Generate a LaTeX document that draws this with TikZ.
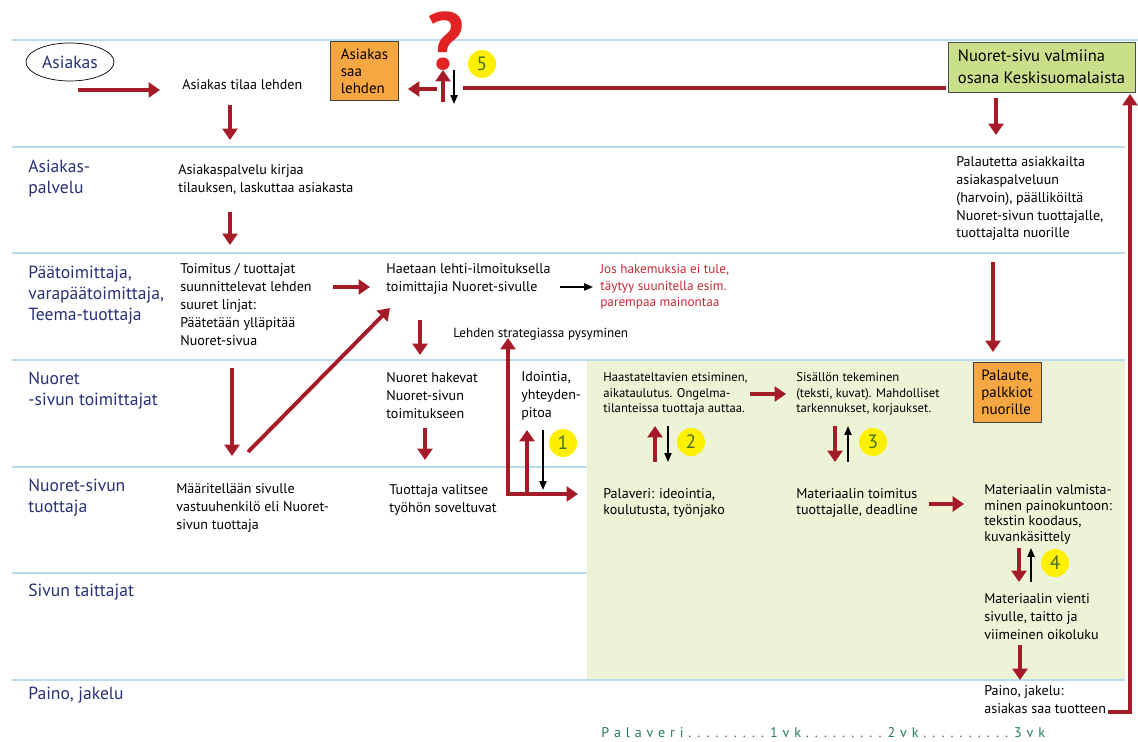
\documentclass[tikz,border=0pt]{standalone}
\usepackage{fontspec}
\setmainfont{PT Sans}
\usetikzlibrary{arrows.meta,shapes.geometric}

\definecolor{laneblue}{RGB}{185,220,236}
\definecolor{laneink}{RGB}{40,48,120}
\definecolor{arrowred}{RGB}{165,28,40}
\definecolor{boxorange}{RGB}{247,167,66}
\definecolor{boxgreen}{RGB}{201,223,138}
\definecolor{areagreen}{RGB}{237,243,214}
\definecolor{numyellow}{RGB}{255,240,0}
\definecolor{numink}{RGB}{70,112,40}
\definecolor{notered}{RGB}{200,40,55}
\definecolor{timeink}{RGB}{40,120,95}
\definecolor{askred}{RGB}{225,35,35}

\begin{document}
\begin{tikzpicture}[x=0.02cm,y=-0.02cm,
	lane_line/.style={draw=laneblue,line width=0.8pt},
	lane_label/.style={anchor=north west,align=left,inner sep=0pt,text=laneink,font=\fontsize{10}{12}\selectfont},
	flow_text/.style={anchor=north west,align=left,inner sep=0pt,font=\fontsize{8}{10.2}\selectfont},
	small_text/.style={flow_text,font=\fontsize{7.2}{9}\selectfont},
	red_arrow/.style={draw=arrowred,line width=2.2pt,-{Triangle[width=8.5pt,length=6.5pt]}},
	red_line/.style={draw=arrowred,line width=2.2pt},
	black_arrow/.style={draw=black,line width=0.9pt,-{Triangle[width=4pt,length=5pt]}},
	orange_box/.style={draw=black!75,fill=boxorange,align=left,inner sep=0pt,minimum width=1.35cm,minimum height=1.18cm,font=\fontsize{8.5}{9.6}\selectfont},
	num_circle/.style={circle,fill=numyellow,text=numink,minimum size=0.56cm,inner sep=0pt,font=\fontsize{11}{11}\selectfont}]

	\useasboundingbox (0,0) rectangle (1138,742);

	% green working area and lanes
	\fill[areagreen] (587,360) rectangle (1125,680);
	\draw[lane_line] (12,40) -- (1138,40);
	\foreach \y in {147,253,360,680} {
		\draw[lane_line] (12,\y) -- (1125,\y);
	}
	\foreach \y in {467,573} {
		\draw[lane_line] (12,\y) -- (587,\y);
	}

	% lane names
	\node[ellipse,draw,minimum width=1.76cm,minimum height=0.76cm,inner sep=0pt,text=laneink,font=\fontsize{10}{12}\selectfont] (asiakas) at (70,62) {Asiakas};
	\node[lane_label] (palvelu) at (28,160) {Asiakas-\\palvelu};
	\node[lane_label] (paatoim) at (28,266) {Päätoimittaja,\\varapäätoimittaja,\\Teema-tuottaja};
	\node[lane_label] (toimittajat) at (28,372) {Nuoret\\-sivun toimittajat};
	\node[lane_label] (tuottaja) at (28,479) {Nuoret-sivun\\tuottaja};
	\node[lane_label] (taittajat) at (28,584) {Sivun taittajat};
	\node[lane_label] (paino) at (28,687) {Paino, jakelu};

	% steps
	\node[flow_text] (tilaa) at (182,79) {Asiakas tilaa lehden};
	\node[flow_text] (kirjaa) at (178,164) {Asiakaspalvelu kirjaa\\tilauksen, laskuttaa asiakasta};
	\node[flow_text] (linjat) at (180,263) {Toimitus / tuottajat\\suunnittelevat lehden\\suuret linjat:\\Päätetään ylläpitää\\Nuoret-sivua};
	\node[flow_text] (haetaan) at (386,263) {Haetaan lehti-ilmoituksella\\toimittajia Nuoret-sivulle};
	\node[flow_text,text=notered,font=\fontsize{7.5}{9.4}\selectfont] (mainonta) at (600,264) {Jos hakemuksia ei tule,\\täytyy suunitella esim.\\parempaa mainontaa};
	\node[flow_text,font=\fontsize{7.5}{9}\selectfont] (strategia) at (453,328) {Lehden strategiassa pysyminen};
	\node[flow_text] (hakevat) at (386,372) {Nuoret hakevat\\Nuoret-sivun\\toimitukseen};
	\node[flow_text] (idointia) at (521,371) {Idointia,\\yhteyden-\\pitoa};
	\node[small_text] (haastat) at (603,372) {Haastateltavien etsiminen,\\aikataulutus. Ongelma-\\tilanteissa tuottaja auttaa.};
	\node[small_text] (sisalto) at (796,372) {Sisällön tekeminen\\(teksti, kuvat). Mahdolliset\\tarkennukset, korjaukset.};
	\node[flow_text] (vastuu) at (176,483) {Määritellään sivulle\\vastuuhenkilö eli Nuoret-\\sivun tuottaja};
	\node[flow_text] (valitsee) at (389,484) {Tuottaja valitsee\\työhön soveltuvat};
	\node[flow_text,font=\fontsize{8}{9.3}\selectfont] (palaveri) at (603,488) {Palaveri: ideointia,\\koulutusta, työnjako};
	\node[flow_text,font=\fontsize{8}{9.3}\selectfont] (toimitus) at (796,488) {Materiaalin toimitus\\tuottajalle, deadline};
	\node[flow_text,font=\fontsize{8}{9}\selectfont] (valmistus) at (984,484) {Materiaalin valmista-\\minen painokuntoon:\\tekstin koodaus,\\kuvankäsittely};
	\node[flow_text] (vienti) at (984,593) {Materiaalin vienti\\sivulle, taitto ja\\viimeinen oikoluku};
	\node[flow_text] (jakelu) at (984,685) {Paino, jakelu:\\asiakas saa tuotteen};
	\node[flow_text] (palautetta) at (956,156) {Palautetta asiakkailta\\asiakaspalveluun\\(harvoin), päälliköiltä\\Nuoret-sivun tuottajalle,\\tuottajalta nuorille};
	\node[flow_text,text=timeink,font=\fontsize{8}{10}\selectfont] (aikajana) at (601,727) {\spaceskip=2.75pt\relax P a l a v e r i . . . . . . . . . 1 v k . . . . . . . . . 2 v k . . . . . . . . . . 3 v k};

	% boxes
	\node[orange_box] (saa) at (364.5,71) {Asiakas\\saa\\lehden};
	\node[orange_box,minimum width=1.36cm,minimum height=1.2cm] (palaute) at (1007,392) {Palaute,\\palkkiot\\nuorille};
	\node[draw=black!70,fill=boxgreen,align=left,inner sep=0pt,minimum width=3.74cm,minimum height=1cm,font=\fontsize{9.4}{12.6}\selectfont] (valmis) at (1041.5,67) {Nuoret-sivu valmiina\\osana Keskisuomalaista};
	\node[text=askred,inner sep=0pt,font=\fontsize{46}{46}\selectfont\bfseries] (kysymys) at (446,41) {?};

	% numbered loops
	\node[num_circle] (n1) at (563,443) {1};
	\node[num_circle] (n2) at (691,442) {2};
	\node[num_circle] (n3) at (873,442) {3};
	\node[num_circle] (n4) at (1055,563) {4};
	\node[num_circle] (n5) at (482,64) {5};

	% arrow ends
	\coordinate (tilaus_a) at (78,90);  \coordinate (tilaus_b) at (160,90);
	\coordinate (tilaa_a) at (230,105); \coordinate (tilaa_b) at (230,140);
	\coordinate (kirjaa_a) at (230,212); \coordinate (kirjaa_b) at (230,245);
	\coordinate (linjat_a) at (333,287); \coordinate (linjat_b) at (370,287);
	\coordinate (haetaan_a) at (560,287); \coordinate (haetaan_b) at (593,287);
	\coordinate (haetaan_c) at (420,320); \coordinate (haetaan_d) at (420,355);
	\coordinate (linjat_c) at (232,368); \coordinate (linjat_d) at (232,456);
	\coordinate (vastuu_a) at (248,452); \coordinate (vastuu_b) at (390,308);
	\coordinate (hakevat_a) at (425,428); \coordinate (hakevat_b) at (425,460);
	\coordinate (kulma) at (508,494);
	\coordinate (strategia_b) at (508,338); \coordinate (palaveri_b) at (578,494);
	\coordinate (idea_a) at (527,494); \coordinate (idea_b) at (527,430);
	\coordinate (idea_c) at (543,430); \coordinate (idea_d) at (543,490);
	\coordinate (haastat_a) at (750,394); \coordinate (haastat_b) at (786,394);
	\coordinate (pal_a) at (655,462); \coordinate (pal_b) at (655,426);
	\coordinate (pal_c) at (668,426); \coordinate (pal_d) at (668,462);
	\coordinate (sis_a) at (835,426); \coordinate (sis_b) at (835,462);
	\coordinate (sis_c) at (848,462); \coordinate (sis_d) at (848,426);
	\coordinate (toimitus_a) at (929,504); \coordinate (toimitus_b) at (964,504);
	\coordinate (valm_a) at (1019,548); \coordinate (valm_b) at (1019,582);
	\coordinate (valm_c) at (1031,582); \coordinate (valm_d) at (1031,548);
	\coordinate (vienti_a) at (1020,645); \coordinate (vienti_b) at (1020,680);
	\coordinate (jakelu_a) at (1108,712); \coordinate (jakelu_b) at (1130,712);
	\coordinate (valmis_c) at (1130,94);
	\coordinate (valmis_a) at (996,98); \coordinate (valmis_b) at (996,135);
	\coordinate (palaute_a) at (993,262); \coordinate (palaute_b) at (993,352);
	\coordinate (yla_a) at (946,88); \coordinate (yla_b) at (463,88);
	\coordinate (saa_a) at (437,89); \coordinate (saa_b) at (408,89);
	\coordinate (kys_a) at (443,102); \coordinate (kys_b) at (443,70);
	\coordinate (kys_c) at (454,70); \coordinate (kys_d) at (454,104);

	% connectors
	\draw[red_arrow] (tilaus_a) -- (tilaus_b);
	\draw[red_arrow] (tilaa_a) -- (tilaa_b);
	\draw[red_arrow] (kirjaa_a) -- (kirjaa_b);
	\draw[red_arrow] (linjat_a) -- (linjat_b);
	\draw[black_arrow] (haetaan_a) -- (haetaan_b);
	\draw[red_arrow] (haetaan_c) -- (haetaan_d);
	\draw[red_arrow] (linjat_c) -- (linjat_d);
	\draw[red_arrow] (vastuu_a) -- (vastuu_b);
	\draw[red_arrow] (hakevat_a) -- (hakevat_b);
	\draw[red_arrow,{Triangle[width=8.5pt,length=6.5pt]}-{Triangle[width=8.5pt,length=6.5pt]}] (strategia_b) -- (kulma) -- (palaveri_b);
	\draw[red_arrow] (idea_a) -- (idea_b);
	\draw[black_arrow] (idea_c) -- (idea_d);
	\draw[red_arrow] (haastat_a) -- (haastat_b);
	\draw[red_arrow] (pal_a) -- (pal_b);
	\draw[black_arrow] (pal_c) -- (pal_d);
	\draw[red_arrow] (sis_a) -- (sis_b);
	\draw[black_arrow] (sis_c) -- (sis_d);
	\draw[red_arrow] (toimitus_a) -- (toimitus_b);
	\draw[red_arrow] (valm_a) -- (valm_b);
	\draw[black_arrow] (valm_c) -- (valm_d);
	\draw[red_arrow] (vienti_a) -- (vienti_b);
	\draw[red_arrow,line width=1.8pt] (jakelu_a) -- (jakelu_b) -- (valmis_c);
	\draw[red_arrow] (valmis_a) -- (valmis_b);
	\draw[red_arrow] (palaute_a) -- (palaute_b);
	\draw[red_line] (yla_a) -- (yla_b);
	\draw[red_arrow] (saa_a) -- (saa_b);
	\draw[red_arrow] (kys_a) -- (kys_b);
	\draw[black_arrow] (kys_c) -- (kys_d);
\end{tikzpicture}
\end{document}
